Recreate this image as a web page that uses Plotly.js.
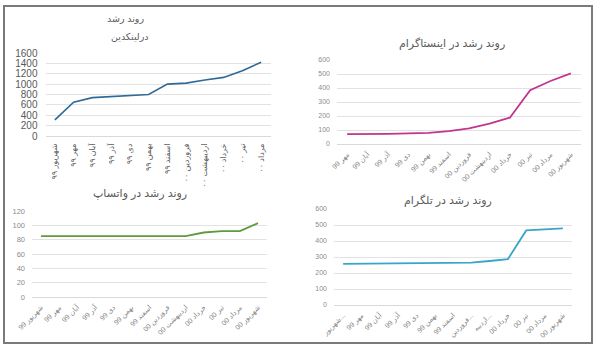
<!DOCTYPE html>
<html><head><meta charset="utf-8">
<script src="https://cdn.plot.ly/plotly-3.0.1.min.js"></script>
<style>html,body{margin:0;padding:0;background:#fff}#c{width:600px;height:352px}</style>
</head><body><div id="c"></div>
<script>
// LinkedIn
const liCats = ['شهریور ۹۹','مهر ۹۹','آبان ۹۹','آذر ۹۹','دی ۹۹','بهمن ۹۹','اسفند ۹۹','فروردین ۰۰','اردیبهشت ۰۰','خرداد ۰۰','تیر ۰۰','مرداد ۰۰'];
const liVals = [310,650,740,760,775,800,1000,1020,1080,1130,1260,1420];
// Instagram
const igCats = ['مهر 99','آبان 99','آذر 99','دی 99','بهمن 99','اسفند 99','فروردین 00','اردیبهشت 00','خرداد 00','تیر 00','مرداد 00','شهریور 00'];
const igVals = [70,70,72,76,80,92,112,145,188,385,450,505];
// WhatsApp
const waCats = ['شهریور 99','مهر 99','آبان 99','آذر 99','دی 99','بهمن 99','اسفند 99','فروردین 00','اردیبهشت 00','خرداد 00','تیر 00','مرداد 00','شهریور 00'];
const waVals = [85,85,85,85,85,85,85,85,85,90,92,92,103];
// Telegram
const tgCats = ['شهریور...','مهر 99','آبان 99','آذر 99','دی 99','بهمن 99','اسفند 99','فروردین...','اردیبه...','خرداد 00','تیر 00','مرداد 00','شهریور 00'];
const tgVals = [257,258,258,260,261,262,263,265,275,287,466,474,479];

const titleLi1 = 'روند رشد';
const titleLi2 = 'درلینکدین';
const titleIg = 'روند رشد در اینستاگرام';
const titleWa = 'روند رشد در واتساپ';
const titleTg = 'روند رشد در تلگرام';

const FF = 'Liberation Sans, DejaVu Sans, sans-serif';
const W = 600, H = 352;
const px = (a,b) => [a/W, b/W];
const py = (top,bot) => [1-bot/H, 1-top/H];
const grid = '#e2e2e2';

function xax(domain, anchor, n, angle, size, color, standoff){
  return {domain, anchor, type:'category', range:[-0.5, n-0.5], showgrid:false,
    zeroline:false, showline:false, ticks:'', tickangle:angle, fixedrange:true,
    ticklabelstandoff:standoff,
    tickfont:{family:FF, size, color}, automargin:false};
}
function yax(domain, anchor, max, dtick, size, color, standoff){
  return {domain, anchor, range:[0,max], dtick, showgrid:true, gridcolor:grid, gridwidth:1,
    zeroline:true, zerolinecolor:'#d9d9d9', zerolinewidth:1, showline:false, ticks:'',
    tickfont:{family:FF, size, color}, ticklabelstandoff:standoff, automargin:false, fixedrange:true};
}
function ttl(text, x, y, size){
  return {text, x:x/W, y:1-y/H, xref:'paper', yref:'paper', showarrow:false,
    xanchor:'center', yanchor:'middle', font:{family:FF, size, color:'#595959'}};
}

const data = [
  {x:liCats, y:liVals, xaxis:'x', yaxis:'y', mode:'lines', line:{color:'#2e6a98', width:1.6}},
  {x:igCats, y:igVals, xaxis:'x2', yaxis:'y2', mode:'lines', line:{color:'#c2358f', width:1.8}},
  {x:waCats, y:waVals, xaxis:'x3', yaxis:'y3', mode:'lines', line:{color:'#5f9a3f', width:1.8}},
  {x:tgCats, y:tgVals, xaxis:'x4', yaxis:'y4', mode:'lines', line:{color:'#38a6c9', width:1.8}}
];

const layout = {
  width:W, height:H, margin:{l:0,r:0,t:0,b:0}, showlegend:false,
  paper_bgcolor:'#fff', plot_bgcolor:'#fff',
  xaxis: xax(px(45.5,270.5),'y', liCats.length, -90, 8, '#595959', 5),
  yaxis: yax(py(53,136),'x', 1600, 200, 10, '#595959', 7),
  xaxis2: xax(px(337,581),'y2', igCats.length, -45, 7, '#7f7f7f', 4),
  yaxis2: yax(py(60,144),'x2', 600, 100, 7, '#8c8c8c', 6),
  xaxis3: xax(px(32,267),'y3', waCats.length, -45, 7, '#7f7f7f', 4),
  yaxis3: yax(py(211,297),'x3', 120, 20, 7.5, '#8c8c8c', 6),
  xaxis4: xax(px(334,572),'y4', tgCats.length, -45, 7, '#7f7f7f', 4),
  yaxis4: yax(py(209,305),'x4', 600, 100, 7, '#8c8c8c', 6),
  annotations: [
    ttl(titleLi1, 125, 19, 9.5),
    ttl(titleLi2, 130, 36, 9.5),
    ttl(titleIg, 452, 43, 11),
    ttl(titleWa, 140, 193, 11),
    ttl(titleTg, 448, 200, 11)
  ],
  shapes: [
    {type:'rect', xref:'paper', yref:'paper', x0:4/W, x1:592/W, y0:1-343/H, y1:1-6/H, line:{color:'#7a7a7a', width:2}}
  ]
};
Plotly.newPlot('c', data, layout, {displayModeBar:false, staticPlot:true});
</script></body></html>
